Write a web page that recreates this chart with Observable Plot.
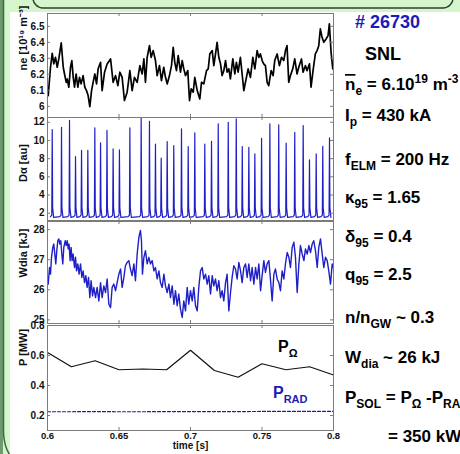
<!DOCTYPE html>
<html><head><meta charset="utf-8">
<script src="https://cdn.jsdelivr.net/npm/d3@7"></script>
<script src="https://cdn.jsdelivr.net/npm/@observablehq/plot@0.6"></script>
<style>
html,body{margin:0;padding:0;}
body{width:460px;height:454px;overflow:hidden;background:#d5f6cd;position:relative;font-family:"Liberation Sans",Arial,sans-serif;}
#white{position:absolute;left:10px;top:12px;width:450px;height:442px;background:#fff;}
.layer{position:absolute;left:0;top:0;}
#plots svg{position:absolute;left:0;top:0;}
</style></head><body>
<div id="white"></div>
<svg id="deco" class="layer" width="460" height="454">
  <rect x="0" y="0" width="3" height="454" fill="#6f9a6f"/>
  <line x1="3.5" y1="0" x2="3.5" y2="432" stroke="#3f6a3f" stroke-width="1.5"/>
  <path d="M3.5,432 Q4,452 16,462" fill="none" stroke="#3f6a3f" stroke-width="1.5"/>
  <rect x="33" y="-22" width="420" height="30" rx="10" fill="#d5f6cd" stroke="#2f3f2f" stroke-width="1.5"/>
</svg>
<div id="plots"></div>
<svg id="notes" class="layer" width="460" height="454" font-family="'Liberation Sans',Arial,sans-serif" font-weight="bold" font-size="17" fill="#000">
  <text x="355" y="28" font-size="18" fill="#1c1cb4"># 26730</text>
  <text x="365" y="60" font-size="18">SNL</text>
  <text x="345" y="90"><tspan text-decoration="overline">n</tspan><tspan dy="5" font-size="12">e</tspan><tspan dy="-5"> = 6.10</tspan><tspan dy="-7" font-size="12">19</tspan><tspan dy="7"> m</tspan><tspan dy="-7" font-size="12">-3</tspan></text>
  <text x="345" y="121">I<tspan dy="5" font-size="12">p</tspan><tspan dy="-5"> = 430 kA</tspan></text>
  <text x="345" y="165">f<tspan dy="5" font-size="12">ELM</tspan><tspan dy="-5"> = 200 Hz</tspan></text>
  <text x="345" y="203">κ<tspan dy="5" font-size="12">95</tspan><tspan dy="-5"> = 1.65</tspan></text>
  <text x="345" y="242">δ<tspan dy="5" font-size="12">95</tspan><tspan dy="-5"> = 0.4</tspan></text>
  <text x="345" y="280">q<tspan dy="5" font-size="12">95</tspan><tspan dy="-5"> = 2.5</tspan></text>
  <text x="345" y="323">n/n<tspan dy="5" font-size="12">GW</tspan><tspan dy="-5"> ~ 0.3</tspan></text>
  <text x="345" y="363">W<tspan dy="5" font-size="12">dia</tspan><tspan dy="-5"> ~ 26 kJ</tspan></text>
  <text x="345" y="403">P<tspan dy="5" font-size="12">SOL</tspan><tspan dy="-5"> = P</tspan><tspan dy="5" font-size="12">Ω</tspan><tspan dy="-5"> -P</tspan><tspan dy="5" font-size="12">RAD</tspan></text>
  <text x="388" y="442">= 350 kW</text>
  <text x="278" y="352" font-size="16">P<tspan dy="5" font-size="11">Ω</tspan></text>
  <text x="273" y="398" font-size="16" fill="#1c1cb4">P<tspan dy="5" font-size="11">RAD</tspan></text>
</svg>
<script>
// ---------- data ----------
const xTicks = [0.6, 0.65, 0.7, 0.75, 0.8];
const neTicks = [6, 6.1, 6.2, 6.3, 6.4, 6.5];
const daTicks = [2, 4, 6, 8, 10, 12];
const wTicks = [25, 26, 27, 28];
const pTicks = [0.2, 0.4, 0.6, 0.8];

// line-averaged density ne [1e19 m^-3] : [time s, value]
const neData = [[0.6005,6.067],[0.6021,6.244],[0.6033,6.331],[0.6044,6.265],[0.6056,6.306],[0.6068,6.244],[0.6079,6.296],[0.6096,6.396],[0.6110,6.244],[0.6119,6.202],[0.6131,6.150],[0.6138,6.171],[0.6149,6.119],[0.6161,6.244],[0.6170,6.286],[0.6180,6.181],[0.6189,6.119],[0.6200,6.202],[0.6212,6.119],[0.6224,6.181],[0.6235,6.140],[0.6249,6.192],[0.6261,6.119],[0.6273,6.098],[0.6284,6.067],[0.6296,5.998],[0.6308,6.098],[0.6319,6.150],[0.6331,6.202],[0.6343,6.140],[0.6354,6.234],[0.6371,6.275],
[0.6382,6.098],[0.6399,6.213],[0.6417,6.265],[0.6441,6.296],[0.6459,6.150],[0.6476,6.192],[0.6492,6.129],[0.6506,6.213],[0.6522,6.181],[0.6538,6.036],[0.6557,6.088],[0.6576,6.223],[0.6592,6.098],[0.6608,6.181],[0.6627,6.150],[0.6646,6.254],[0.6662,6.202],[0.6674,6.296],[0.6685,6.150],[0.6697,6.306],[0.6713,6.379],[0.6725,6.306],[0.6739,6.348],[0.6755,6.286],[0.6767,6.192],[0.6783,6.254],[0.6797,6.161],[0.6813,6.244],[0.6825,6.181],[0.6837,6.140],[0.6853,6.192],[0.6867,6.254],[0.6879,6.369],[0.6890,6.275],[0.6902,6.223],[0.6914,6.317],[0.6930,6.213],[0.6942,6.286],[0.6953,6.234],[0.6965,6.192],[0.6981,6.223],[0.6993,6.036],[0.7005,6.109],[0.7019,6.088],[0.7030,6.181],[0.7047,6.098],[0.7065,6.046],[0.7077,6.150],[0.7093,6.140],[0.7112,6.223],[0.7124,6.234],[0.7135,6.327],[0.7152,6.348],[0.7163,6.254],[0.7175,6.327],[0.7186,6.400],[0.7198,6.306],[0.7210,6.265],[0.7221,6.192],[0.7233,6.223],[0.7245,6.286],[0.7256,6.213],[0.7268,6.234],[0.7279,6.171],[0.7296,6.296],[0.7310,6.202],[0.7321,6.275],[0.7333,6.213],[0.7349,6.306],[0.7361,6.202],[0.7373,6.098],[0.7389,6.171],[0.7403,6.234],[0.7419,6.181],[0.7436,6.306],[0.7450,6.234],[0.7466,6.348],[0.7478,6.306],[0.7489,6.327],[0.7501,6.286],[0.7512,6.265],[0.7524,6.254],[0.7536,6.150],[0.7547,6.129],[0.7564,6.223],[0.7578,6.192],[0.7589,6.286],[0.7606,6.327],[0.7622,6.254],[0.7636,6.306],[0.7652,6.286],[0.7664,6.348],[0.7675,6.379],[0.7687,6.150],[0.7699,6.192],[0.7715,6.234],[0.7729,6.296],[0.7745,6.202],[0.7757,6.244],[0.7776,6.296],[0.7787,6.213],[0.7804,6.254],[0.7815,6.223],[0.7832,6.265],[0.7843,6.119],[0.7857,6.223],[0.7873,6.327],[0.7885,6.348],[0.7897,6.379],[0.7908,6.484],[0.7920,6.431],[0.7932,6.400],[0.7948,6.421],[0.7962,6.442],[0.7971,6.515],[0.7983,6.338],[0.7995,6.234]];

// D-alpha ELM bursts: times [s] and peak heights [au]
const elmTimes = [0.6033,0.6098,0.6154,0.6196,0.6238,0.6282,0.6331,0.6371,0.6416,0.6459,0.6503,0.6576,0.6655,0.6713,0.6755,0.6795,0.6837,0.6883,0.6937,0.6984,0.7030,0.7100,0.7147,0.7194,0.7264,0.7320,0.7362,0.7408,0.7450,0.7497,0.7555,0.7617,0.7669,0.7729,0.7788,0.7832,0.7879,0.7925,0.7972];
const elmPeaks = [11.2,11.45,12.2,8.23,8.9,8.9,11.38,9.74,11.1,9.07,8.97,11.38,12.6,12.1,9.6,8.05,9.88,9.44,11.27,9.33,10.83,9.6,9.91,11.82,12.0,12.37,9.33,9.25,8.52,10.24,11.82,11.71,9.7,10.9,11.64,7.87,8.52,9.36,10.29];
const daBase = 1.62;          // inter-ELM level
const daPre = 1.8;            // level just before a burst
const daTail = [2.6, 1.55];   // decay levels just after a burst

// diamagnetic energy Wdia [kJ]
const wData = [[0.6005,26.19],[0.6014,26.74],[0.6021,26.52],[0.6028,27.08],[0.6037,27.41],[0.6044,27.52],[0.6051,27.19],[0.6058,26.86],[0.6065,27.30],[0.6072,27.63],[0.6079,27.69],[0.6086,27.52],[0.6093,27.63],[0.6100,27.19],[0.6107,26.86],[0.6114,27.41],[0.6124,27.63],[0.6131,27.47],[0.6138,27.63],[0.6145,27.36],[0.6151,27.52],[0.6158,26.97],[0.6165,27.41],[0.6172,26.97],[0.6179,27.19],[0.6189,26.74],[0.6196,27.08],[0.6203,26.63],[0.6212,26.86],[0.6221,26.52],[0.6231,26.86],[0.6240,26.41],[0.6249,26.63],[0.6259,26.24],[0.6268,26.47],[0.6277,26.08],[0.6287,26.41],[0.6296,25.74],[0.6305,26.30],[0.6315,25.80],[0.6324,26.08],[0.6336,25.74],[0.6347,26.08],[0.6359,25.63],
[0.6371,26.24],[0.6382,25.74],[0.6394,26.13],[0.6406,25.91],[0.6417,26.36],[0.6429,25.52],[0.6441,25.41],[0.6452,26.08],[0.6464,26.19],[0.6476,25.97],[0.6487,26.24],[0.6499,26.52],[0.6511,26.69],[0.6522,26.08],[0.6534,26.41],[0.6545,26.80],[0.6557,26.91],[0.6569,26.97],[0.6580,26.69],[0.6592,26.47],[0.6604,26.86],[0.6615,26.30],[0.6627,27.19],[0.6639,27.74],[0.6650,27.97],[0.6657,27.63],[0.6664,26.52],[0.6674,27.08],[0.6685,27.30],[0.6697,26.86],[0.6709,27.08],[0.6720,26.86],[0.6732,26.97],[0.6744,26.63],[0.6755,26.74],[0.6767,26.36],[0.6779,26.63],[0.6790,26.24],[0.6802,26.08],[0.6814,26.52],[0.6825,26.13],[0.6837,25.91],[0.6849,26.19],[0.6860,25.74],[0.6872,26.13],[0.6884,25.52],[0.6895,25.97],[0.6907,25.47],[0.6918,25.86],[0.6930,25.36],[0.6942,25.08],[0.6953,25.63],[0.6965,25.30],[0.6977,26.08],[0.6988,25.52],[0.7000,25.97],[0.7012,25.63],[0.7023,26.08],[0.7035,25.47],[0.7047,25.30],[0.7058,26.08],[0.7070,26.63],[0.7082,26.74],[0.7093,26.36],[0.7105,26.52],[0.7117,26.19],[0.7128,26.47],[0.7140,25.86],[0.7152,26.47],[0.7163,26.13],[0.7175,26.36],[0.7186,25.97],[0.7198,26.30],[0.7210,25.74],[0.7221,25.97],[0.7233,25.63],[0.7245,26.24],[0.7256,26.52],[0.7268,25.30],[0.7280,25.91],[0.7291,26.41],[0.7303,26.80],[0.7315,26.69],[0.7326,26.36],[0.7338,26.91],[0.7350,26.63],[0.7361,26.24],[0.7373,26.74],[0.7385,26.86],[0.7396,26.41],[0.7408,26.86],[0.7420,26.30],[0.7431,26.74],[0.7443,26.19],[0.7455,26.74],[0.7466,26.36],[0.7478,26.86],[0.7490,25.97],[0.7501,26.47],[0.7513,26.97],[0.7524,26.58],[0.7536,26.86],[0.7548,26.97],[0.7559,26.36],[0.7571,25.63],[0.7583,26.52],[0.7594,26.69],[0.7606,26.36],[0.7618,26.24],[0.7629,25.97],[0.7641,26.63],[0.7653,26.36],[0.7664,26.86],[0.7676,27.24],[0.7688,27.08],[0.7699,26.74],[0.7711,27.41],[0.7723,27.58],[0.7734,27.08],[0.7746,25.91],[0.7758,26.86],[0.7769,27.47],[0.7781,27.19],[0.7793,26.97],[0.7804,27.36],[0.7816,27.19],[0.7828,27.47],[0.7839,27.24],[0.7851,27.52],[0.7862,27.63],[0.7874,27.30],[0.7886,26.74],[0.7897,27.41],[0.7909,27.69],[0.7921,27.19],[0.7932,26.74],[0.7944,27.08],[0.7956,26.97],[0.7967,26.63],[0.7979,26.19],[0.7991,26.86],[0.7998,26.74]];

// ohmic and radiated power [MW]
const pTimes = [0.6,0.6167,0.6333,0.65,0.6667,0.6833,0.7,0.7167,0.7333,0.75,0.7667,0.7833,0.8];
const pOhm = [0.62,0.525,0.565,0.505,0.51,0.505,0.635,0.50,0.455,0.545,0.505,0.525,0.47];
const pRad = [0.225,0.225,0.226,0.225,0.225,0.226,0.226,0.226,0.226,0.227,0.227,0.227,0.227];

// ---------- drawing ----------
const W = 340, H = 454, ML = 47, MR = 7, TL = 3;
const FRAME = "#7b7b7b", BLUE = "#1f1fc8";
const FONT = "'Liberation Sans', Arial, Helvetica, sans-serif";

const daData = [];
elmTimes.forEach((t, i) => {
  daData.push([t - 0.0012, daBase], [t - 0.0003, daPre], [t, elmPeaks[i]], [t + 0.0003, daTail[0]], [t + 0.0010, daTail[1]]);
});
const ohmData = pTimes.map((t, i) => [t, pOhm[i]]);
const radData = pTimes.map((t, i) => [t, pRad[i]]);

function panel(o) {
  const ph = o.bottom - o.top, pw = W - ML - MR;
  const marks = [
    ...o.marks,
    Plot.frame({stroke: FRAME, strokeWidth: 1}),
    Plot.tickX(xTicks, {x: d => d, insetTop: ph - TL, stroke: FRAME}),
    Plot.tickX(xTicks, {x: d => d, insetBottom: ph - TL, stroke: FRAME}),
    Plot.tickY(o.yTicks, {y: d => d, insetRight: pw - TL, stroke: FRAME}),
    Plot.tickY(o.yTicks, {y: d => d, insetLeft: pw - TL, stroke: FRAME}),
    Plot.axisY(o.yTicks, {tickSize: 0, tickPadding: 3, tickFormat: d => String(d), label: null, fontSize: 10}),
    Plot.text([o.yLabel], {text: d => d, frameAnchor: "left", rotate: -90, dx: -24, dy: o.labelDy, fontSize: 11})
  ];
  if (o.xAxis) {
    marks.push(
      Plot.axisX(xTicks, {tickSize: 0, tickPadding: 2, tickFormat: d => String(d), label: null, fontSize: 9.5}),
      Plot.text(["time [s]"], {text: d => d, frameAnchor: "bottom", dy: 18.5, fontSize: 10})
    );
  }
  return Plot.plot({
    width: W, height: H,
    marginLeft: ML, marginRight: MR, marginTop: o.top, marginBottom: H - o.bottom,
    style: {background: "transparent", overflow: "visible", fontFamily: FONT, fontWeight: "bold", color: "#111"},
    x: {domain: [0.6, 0.8], axis: o.xAxis ? undefined : null, label: null},
    y: {domain: o.yDomain, label: null, axis: null},
    marks
  });
}

const host = document.getElementById("plots");
host.append(panel({
  top: 13, bottom: 117, yDomain: [5.93, 6.58], yTicks: neTicks, yLabel: "ne [10¹⁹ m⁻³]", labelDy: 5,
  marks: [Plot.line(neData, {x: d => d[0], y: d => d[1], stroke: "#000", strokeWidth: 1.7, clip: true})]
}));
host.append(panel({
  top: 117, bottom: 220, yDomain: [1.2, 12.52], yTicks: daTicks, yLabel: "Dα [au]", labelDy: 13,
  marks: [Plot.line(daData, {x: d => d[0], y: d => d[1], stroke: BLUE, strokeWidth: 1.2, clip: true})]
}));
host.append(panel({
  top: 221, bottom: 323, yDomain: [24.88, 28.27], yTicks: wTicks, yLabel: "Wdia [kJ]", labelDy: 5,
  marks: [Plot.line(wData, {x: d => d[0], y: d => d[1], stroke: BLUE, strokeWidth: 1.4, clip: true})]
}));
host.append(panel({
  top: 325, bottom: 430, yDomain: [0.1, 0.8], yTicks: pTicks, yLabel: "P [MW]", labelDy: -12, xAxis: true,
  marks: [
    Plot.line(ohmData, {x: d => d[0], y: d => d[1], stroke: "#111", strokeWidth: 1.2}),
    Plot.line(radData, {x: d => d[0], y: d => d[1], stroke: "#1c1ca0", strokeWidth: 1.2, strokeDasharray: "3,2"})
  ]
}));
</script>
</body></html>
